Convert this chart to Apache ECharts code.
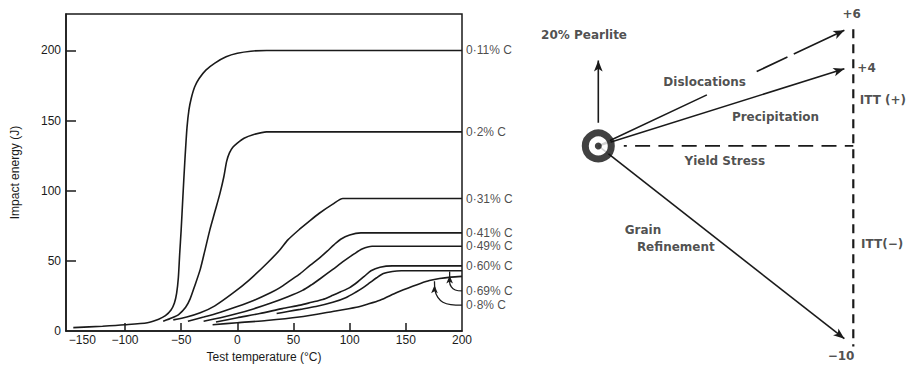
<!DOCTYPE html>
<html><head><meta charset="utf-8">
<script src="https://cdn.jsdelivr.net/npm/echarts@6/dist/echarts.min.js"></script>
<style>html,body{margin:0;padding:0;background:#fff}#c{width:916px;height:368px}</style>
</head><body><div id="c"></div>
<script>
// ---------- Left chart data (Test temperature °C, Impact energy J) ----------
const curveNames = ['0·11% C','0·2% C','0·31% C','0·41% C','0·49% C','0·60% C','0·69% C','0·8% C'];
const c011 = [[-146,2.5],[-120,3.5],[-100,4.5],[-80,6],[-70,8.5],[-64,11],[-59,15],[-56,20],[-54,27],[-52.5,38],[-51.3,55],[-50,72],[-48.5,95],[-46.8,120],[-44.8,145],[-43,158],[-41,166],[-38,174],[-34,180],[-28,186],[-20,191],[-10,195.5],[0,198],[12,199.5],[26,200],[200,200]];
const c020 = [[-66,7],[-58,9.5],[-52,12],[-46,17],[-42,23],[-38,32],[-33,44],[-29,57],[-24.5,72],[-20,85],[-15.5,98],[-12,110],[-9.5,121],[-7,127],[-4,131],[0,134],[6,137.5],[14,140],[26,142],[200,142]];
const c031 = [[-57,8],[-45,10],[-33,13],[-20,18],[-4,27],[10,36],[26,48],[38,58],[45,65],[56,73],[65,79],[73,84],[85,90.5],[94,94.5],[200,94.5]];
const c041 = [[-44,7],[-30,10],[-15,13.5],[0,17.5],[15,22],[30,27.5],[38,31],[47,36],[56,41],[65,47],[73,52],[80,57],[86,61.5],[92,65.5],[100,68.5],[110,70],[200,70]];
const c049 = [[-30,7],[-15,9.5],[0,12.5],[15,16],[30,20],[45,24.5],[58,29],[66,33],[74,37.5],[85,44],[95,50],[104,55],[111,58.5],[120,60.5],[200,60.5]];
const c060 = [[-19,6.5],[0,9.5],[20,12.5],[40,16],[56,18.5],[66,20.5],[76,22.5],[85,25.5],[92,28],[100,31],[107,35],[113,39],[119,43],[127,45.5],[138,46.5],[200,46.5]];
const c069 = [[35,12.5],[45,14],[56,15.5],[70,17.5],[85,20.5],[97,24],[105,27.5],[112,31],[118,34.5],[124,38],[130,41],[138,42.5],[146,43],[200,43]];
const c080 = [[-22,4.5],[0,6],[26,7.5],[55,10],[85,14],[106,17],[115,19],[127,22],[142,27.5],[156,32],[163,34],[171,36],[180,37.5],[190,38.5],[200,39]];
const curveLabelY = [200, 142, 94.5, 70, 60.5, 46.5, 28.6, 18.5];
const leader069 = [[189,42.5],[189,35],[190.5,31.5],[194,29.3],[200,28.6]];
const leader080 = [[175.5,35.5],[176,29],[178.5,24],[183,20.6],[190,18.9],[200,18.5]];
const xTickValues = [-150,-100,-50,0,50,100,150,200];
const xTickLabels = ['−150','−100','−50','0','50','100','150','200'];
const xTickMarks = [-100,-50,0,50,100,150];
const yTickValues = [0,50,100,150,200];
const yTickMarks = [50,100,150,200];

// ---------- Right diagram data (ITT change) ----------
const ittArrowNames = ['Dislocations','Precipitation','Grain Refinement'];
const ittArrowValues = [6, 4, -10];
const yieldStressValue = 0;
const ittScaleLabels = ['+6','+4','−10'];
const ittScaleValues = [6, 4, -10];

// ---------- Layout ----------
const W = 916, H = 368;
const g1 = {left:66, right:454, top:14, bottom:36};
const x1 = {min:-152.5, max:200}, y1 = {min:0, max:226};
const g2 = {left:521.8, right:11.7, top:11, bottom:10};
const x2 = {min:-3, max:12}, y2 = {min:-11, max:7};
const kx = (W - g2.left - g2.right) / (x2.max - x2.min);
const ky = (H - g2.top - g2.bottom) / (y2.max - y2.min);
const INK = '#1a1a1a';
const FONT = 'Liberation Sans';
const DFONT = 'DejaVu Sans';

const series = [];
// curves
[c011,c020,c031,c041,c049,c060,c069,c080].forEach((d,i)=>{
  series.push({type:'line', name:curveNames[i], xAxisIndex:0, yAxisIndex:0, data:d,
    showSymbol:false, symbol:'none', smooth:0.25, lineStyle:{color:INK, width:1.6}, silent:true, z:3});
});
// curve labels
series.push({type:'scatter', xAxisIndex:0, yAxisIndex:0, symbolSize:0, clip:false, silent:true,
  data: curveLabelY.map((y,i)=>({value:[200,y], name:curveNames[i]})),
  label:{show:true, position:'right', distance:4, formatter:p=>p.name, fontFamily:FONT, fontSize:12, color:INK}});
// leader arrows
[leader069, leader080].forEach(d=>{
  series.push({type:'line', xAxisIndex:0, yAxisIndex:0, symbol:'none', showSymbol:true, smooth:0.4, silent:true,
    data: d.map((p,j)=> j===0 ? {value:p, symbol:'arrow', symbolSize:[5,8], symbolOffset:[0,4]} : {value:p}),
    lineStyle:{color:INK, width:1.3}, itemStyle:{color:INK}, z:4});
});

// diagram: arrows
function arrowSeries(from, to, dash, dashOffset) {
  const vx = (to[0]-from[0])*kx, vy = (to[1]-from[1])*ky;
  const rot = Math.atan2(vy, vx)*180/Math.PI - 90;
  return {type:'line', xAxisIndex:1, yAxisIndex:1, symbol:'none', showSymbol:true, silent:true,
    data:[{value:from}, {value:to, symbol:'arrow', symbolSize:[6.5,11], symbolRotate:rot}],
    lineStyle:{color:INK, width:1.6, type: dash || 'solid', dashOffset: dashOffset || 0}, itemStyle:{color:INK}, z:3};
}
const xEnd = 9.65;
series.push(arrowSeries([0,1.2],[0,4.43]));             // 20% Pearlite
series.push(arrowSeries([0,0],[xEnd, ittArrowValues[0]], [120,55,34,7,400])); // Dislocations
series.push(arrowSeries([0,0],[xEnd, ittArrowValues[1]]));  // Precipitation
series.push(arrowSeries([0,0],[xEnd, ittArrowValues[2]]));  // Grain refinement
// yield stress dashed line
series.push({type:'line', xAxisIndex:1, yAxisIndex:1, symbol:'none', silent:true,
  data:[[1.0, yieldStressValue],[10, yieldStressValue]],
  lineStyle:{color:INK, width:1.7, type:[15,8.3], dashOffset:12}, z:2});
// ITT vertical dashed scale
series.push({type:'line', xAxisIndex:1, yAxisIndex:1, symbol:'none', silent:true,
  data:[[10, Math.max(...ittScaleValues)+0.05],[10, Math.min(...ittScaleValues)-0.4]],
  lineStyle:{color:INK, width:2.2, type:[9,6]}, z:2});
// bullseye
series.push({type:'scatter', xAxisIndex:1, yAxisIndex:1, silent:true, z:10,
  data:[[0,0]], symbol:'circle', symbolSize:26, itemStyle:{color:'#fff', borderColor:'#111', borderWidth:7}});
series.push({type:'scatter', xAxisIndex:1, yAxisIndex:1, silent:true, z:11,
  data:[[0,0]], symbol:'circle', symbolSize:7, itemStyle:{color:'#111'}});
// diagram texts
const dText = [
  {t:'20% Pearlite', p:[-0.56,5.76]},
  {t:ittArrowNames[0], p:[4.17,3.32]},
  {t:ittArrowNames[1], p:[6.95,1.49]},
  {t:'Yield Stress', p:[4.96,-0.78]},
  {t:'Grain', p:[1.75,-4.36]},
  {t:'Refinement', p:[3.04,-5.22]},
  {t:ittScaleLabels[0], p:[9.94,6.85]},
  {t:ittScaleLabels[1], p:[10.52,4.03]},
  {t:'ITT (+)', p:[11.16,2.39]},
  {t:'ITT(−)', p:[11.13,-5.08]},
  {t:ittScaleLabels[2], p:[9.52,-10.89]}
];
series.push({type:'scatter', xAxisIndex:1, yAxisIndex:1, symbolSize:0, clip:false, silent:true, z:12,
  data: dText.map(o=>({value:o.p, name:o.t})),
  label:{show:true, position:'inside', formatter:p=>p.name, fontFamily:DFONT, fontWeight:'bold', fontSize:12, color:'#222'}});

const option = {
  animation:false,
  backgroundColor:'#fff',
  grid:[
    {left:g1.left, right:g1.right, top:g1.top, bottom:g1.bottom, show:true, borderColor:INK, borderWidth:1.5, backgroundColor:'transparent'},
    {left:g2.left, right:g2.right, top:g2.top, bottom:g2.bottom}
  ],
  xAxis:[
    {type:'value', gridIndex:0, min:x1.min, max:x1.max,
      name:'Test temperature (°C)', nameLocation:'middle', nameGap:14,
      nameTextStyle:{fontFamily:FONT, fontSize:12, color:INK},
      axisLine:{show:true, onZero:false, lineStyle:{color:INK, width:1.5}},
      axisTick:{show:true, inside:true, length:8, customValues:xTickMarks, lineStyle:{color:INK, width:1.5}},
      axisLabel:{show:true, customValues:xTickValues, margin:3, alignMinLabel:'left', fontFamily:FONT, fontSize:12, color:INK,
        formatter:v=>{const i=xTickValues.indexOf(v); return i>=0?xTickLabels[i]:'';}},
      splitLine:{show:false}},
    {type:'value', gridIndex:1, min:x2.min, max:x2.max, show:false}
  ],
  yAxis:[
    {type:'value', gridIndex:0, min:y1.min, max:y1.max,
      name:'Impact energy (J)', nameLocation:'middle', nameRotate:90, nameGap:45,
      nameTextStyle:{fontFamily:FONT, fontSize:12, color:INK},
      axisLine:{show:true, onZero:false, lineStyle:{color:INK, width:1.5}},
      axisTick:{show:true, inside:true, length:10, customValues:yTickMarks, lineStyle:{color:INK, width:1.5}},
      axisLabel:{show:true, customValues:yTickValues, margin:5, fontFamily:FONT, fontSize:12, color:INK},
      splitLine:{show:false}},
    {type:'value', gridIndex:1, min:y2.min, max:y2.max, show:false}
  ],
  series
};
const chart = echarts.init(document.getElementById('c'), null, {renderer:'svg', width:W, height:H});
chart.setOption(option);
</script>
</body></html>
